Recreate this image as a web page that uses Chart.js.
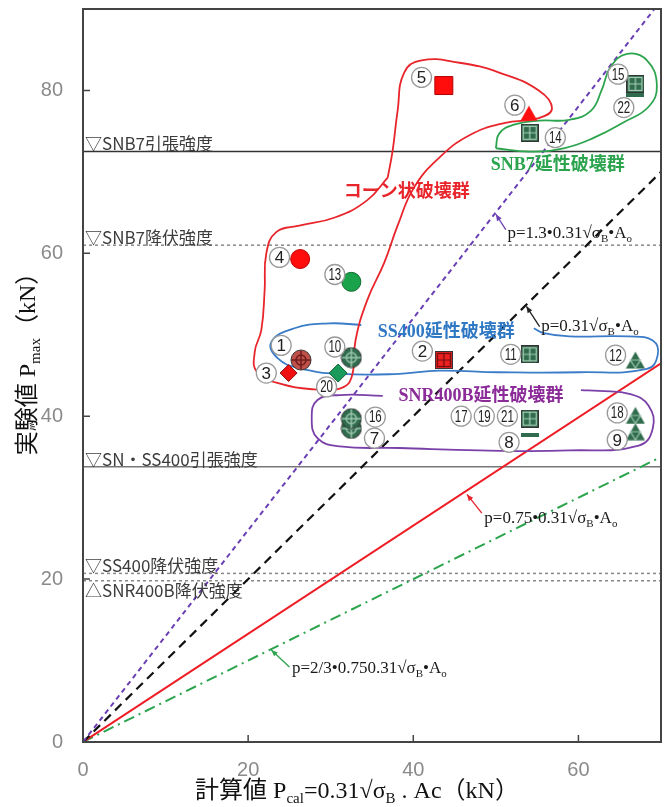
<!DOCTYPE html>
<html>
<head>
<meta charset="utf-8">
<script src="https://cdn.jsdelivr.net/npm/chart.js@4.4.0/dist/chart.umd.min.js"></script>
<style>
  html, body { margin: 0; padding: 0; background: #fff; }
  canvas { display: block; }
</style>
</head>
<body>
<canvas id="chart" width="669" height="807"></canvas>
<script>
// ticks
const xTicks = [0, 20, 40, 60];
const yTicks = [0, 20, 40, 60, 80];

// strength levels (kN)
const levelNames = ['▽SNB7引張強度', '▽SNB7降伏強度', '▽SN・SS400引張強度', '▽SS400降伏強度', '△SNR400B降伏強度'];
const levelValues = [72.5, 61.0, 33.8, 20.7, 19.8];

// design lines p = k * Pcal, end points
const designEndX = [69.2, 70, 70, 70];
const designEndY = [90, 70, 46.5, 35];

// specimens (Pcal, Pmax)
const redSquare = [[43.7, 80.6]];                              // 5
const redTriangle = [[54.0, 77.2]];                            // 6
const redCircle = [[26.3, 59.3]];                              // 4
const redCrossCircle = [[26.4, 46.9]];                         // 1
const redDiamond = [[24.9, 45.3]];                             // 3
const redGrid = [[43.7, 46.9]];                                // 2
const greenCircle = [[32.5, 56.5]];                            // 13
const greenCrossCircle = [[32.5, 47.2], [32.5, 38.5], [32.5, 39.7]]; // 10, 7, 16
const greenDiamond = [[30.9, 45.3]];                           // 20
const greenGrid = [[54.1, 74.8], [66.9, 80.8], [54.1, 47.6], [54.1, 39.7]]; // 14, 15, 11, 17/19/21
const greenDash = [[54.1, 37.7], [66.9, 79.5]];                // 8, 22
const greenTriangle = [[66.9, 46.9], [66.9, 38.1], [66.9, 40.1]]; // 12, 9, 18

// specimen numbers and where their tags sit
const tagNums = [5, 6, 14, 15, 22, 4, 13, 1, 3, 10, 20, 2, 11, 12, 17, 19, 21, 8, 18, 9, 16, 7];
const tagX = [41.0, 52.3, 57.2, 64.8, 65.5, 23.8, 30.5, 24.0, 22.2, 30.5, 29.5, 41.1, 51.8, 64.5, 45.8, 48.6, 51.4, 51.6, 64.7, 64.7, 35.4, 35.3];
const tagY = [81.6, 78.2, 74.2, 82.0, 77.9, 59.5, 57.4, 48.7, 45.3, 48.5, 43.6, 48.0, 47.6, 47.5, 40.0, 40.0, 40.0, 36.8, 40.4, 37.1, 39.9, 37.3];

// failure group outlines
const coneGroup = [[36.9, 69.3], [34.4, 66.5], [30.5, 64.4], [26.2, 63.4], [23.4, 62.6], [22.2, 60.0], [22.0, 55.5],
  [21.6, 50.6], [20.8, 47.9], [21.1, 45.4], [24.2, 43.9], [28.0, 43.3], [31.1, 43.4], [32.5, 44.7], [33.0, 49.3],
  [34.4, 54.2], [36.5, 58.9], [38.1, 63.4], [40.1, 68.1], [43.1, 71.7], [46.8, 74.5], [51.0, 76.0], [55.2, 76.6],
  [56.8, 77.8], [55.2, 80.0], [50.4, 82.2], [45.6, 83.4], [41.0, 83.7], [38.9, 82.2], [38.1, 77.5], [37.5, 72.6], [36.9, 69.3]];
const ss400Group = [[33.7, 51.2], [29.8, 51.4], [25.6, 50.8], [22.8, 49.1], [23.6, 47.1], [26.2, 45.9], [31.1, 45.2],
  [38.3, 45.2], [43.1, 45.6], [50.4, 45.4], [60.1, 45.4], [68.3, 45.8], [69.6, 47.5], [69.0, 49.3], [66.1, 49.8],
  [58.9, 49.8], [55.8, 50.2], [54.6, 50.8]];
const snr400bGroup = [[36.3, 42.5], [31.1, 42.6], [28.4, 42.0], [27.7, 39.8], [28.4, 37.3], [31.1, 36.3], [38.3, 36.1],
  [48.0, 35.8], [58.9, 35.8], [67.3, 36.4], [69.0, 38.5], [68.5, 41.3], [66.3, 42.7], [62.5, 43.1], [60.3, 43.2]];
const snb7Group = [[50.0, 72.9], [50.4, 74.7], [52.2, 75.8], [55.2, 76.3], [58.9, 76.4], [61.5, 77.5], [62.8, 80.0],
  [63.9, 82.9], [65.9, 84.5], [68.3, 83.7], [69.5, 80.6], [68.5, 78.0], [65.5, 76.1], [61.9, 74.2], [58.2, 72.9],
  [54.0, 72.5], [50.0, 72.9]];

// group names
const groupNames = ['コーン状破壊群', 'SNB7延性破壊群', 'SS400延性破壊群', 'SNR400B延性破壊群'];
const groupX = [39.2, 57.5, 44.0, 48.2];
const groupY = [67.6, 71.0, 50.5, 42.6];
const groupColors = ['#e8252b', '#2ca44e', '#2f78c4', '#8b2c99'];

// formulas with leader arrows
const formulaTexts = ['p=1.3•0.31√σ_{B}•A_{o}', 'p=0.31√σ_{B}•A_{o}', 'p=0.75•0.31√σ_{B}•A_{o}', 'p=2/3•0.750.31√σ_{B}•A_{o}'];
const formulaX = [51.4, 55.5, 48.6, 25.3];
const formulaY = [62.6, 51.2, 27.6, 9.2];
const arrowHead = [[50.0, 64.8], [53.7, 53.5], [46.5, 30.4], [22.8, 11.3]];
const arrowTail = [[51.2, 62.9], [55.3, 51.0], [48.3, 28.1], [25.0, 9.2]];
const arrowColors = ['#6a3fb5', '#222', '#e8202a', '#2ca44e'];

const toPts = arr => arr.map(p => ({ x: p[0], y: p[1] }));

// marker images
function gridImg(fill, line) {
  const c = document.createElement('canvas');
  c.width = 18; c.height = 18;
  const g = c.getContext('2d');
  g.fillStyle = fill; g.fillRect(0, 0, 18, 18);
  g.strokeStyle = line; g.lineWidth = 1.2;
  g.strokeRect(2.5, 2.5, 13, 13);
  g.beginPath(); g.moveTo(9, 2.5); g.lineTo(9, 15.5); g.moveTo(2.5, 9); g.lineTo(15.5, 9); g.stroke();
  g.strokeStyle = '#333'; g.lineWidth = 1; g.strokeRect(0.5, 0.5, 17, 17);
  return c;
}
function crossCircleImg(fill, line) {
  const c = document.createElement('canvas');
  c.width = 22; c.height = 22;
  const g = c.getContext('2d');
  g.beginPath(); g.arc(11, 11, 10, 0, Math.PI * 2);
  g.fillStyle = fill; g.fill();
  g.strokeStyle = '#333'; g.lineWidth = 1; g.stroke();
  g.strokeStyle = line; g.lineWidth = 1.5;
  g.beginPath(); g.moveTo(1.5, 11); g.lineTo(20.5, 11); g.moveTo(11, 1.5); g.lineTo(11, 20.5); g.stroke();
  g.beginPath(); g.arc(11, 11, 5, 0, Math.PI * 2); g.stroke();
  return c;
}
function triangleImg(fill, line, w, h) {
  const c = document.createElement('canvas');
  c.width = w; c.height = h;
  const g = c.getContext('2d');
  g.beginPath(); g.moveTo(w / 2, 0.5); g.lineTo(w - 0.5, h - 0.5); g.lineTo(0.5, h - 0.5); g.closePath();
  g.fillStyle = fill; g.fill();
  if (line) {
    g.strokeStyle = line; g.lineWidth = 1.2;
    g.beginPath(); g.moveTo(w / 4, h / 2); g.lineTo(w * 3 / 4, h / 2); g.lineTo(w / 2, h - 1); g.closePath(); g.stroke();
  }
  return c;
}
function dashImg(fill) {
  const c = document.createElement('canvas');
  c.width = 18; c.height = 4;
  const g = c.getContext('2d');
  g.fillStyle = fill; g.fillRect(0, 0, 18, 4);
  return c;
}

const green = '#2f6b4c';

const datasets = [];
// markers
function markers(data, style, extra) {
  datasets.push(Object.assign({ data: toPts(data), pointStyle: style, showLine: false, order: 0, pointRadius: 9 }, extra || {}));
}
markers(redSquare, 'rect', { pointRadius: 12.7, backgroundColor: '#ff0d0d', borderColor: '#b00000', borderWidth: 1 });
markers(redTriangle, triangleImg('#ff1010', null, 18, 16));
markers(redCircle, 'circle', { pointRadius: 9.5, backgroundColor: '#ff0d0d', borderColor: '#c00000', borderWidth: 1 });
markers(redCrossCircle, crossCircleImg('#c0504a', '#6e1c1c'));
markers(redDiamond, 'rectRot', { pointRadius: 8.5, backgroundColor: '#f01010', borderColor: '#8a1010', borderWidth: 1 });
markers(redGrid, gridImg('#ee2020', '#6e1010'));
markers(greenCircle, 'circle', { pointRadius: 9.5, backgroundColor: '#1aa34a', borderColor: '#0f6a30', borderWidth: 1 });
markers(greenCrossCircle, crossCircleImg(green, '#9cc7ae'));
markers(greenDiamond, 'rectRot', { pointRadius: 9, backgroundColor: '#1a9a5a', borderColor: '#0d5f35', borderWidth: 1 });
markers(greenGrid, gridImg(green, '#a8d0b8'));
markers(greenDash, dashImg(green));
markers(greenTriangle, triangleImg(green, '#9cc7ae', 20, 18));

// group outlines
[[coneGroup, '#e8252b'], [ss400Group, '#3a7cc8'], [snr400bGroup, '#7a40a8'], [snb7Group, '#2ca44e']].forEach(function (g) {
  datasets.push({ data: toPts(g[0]), showLine: true, borderColor: g[1], borderWidth: 1.8, pointRadius: 0, tension: 0.45, order: 1 });
});

// design lines
const designStyles = [
  { color: '#6a3fb5', dash: [5, 4], width: 2 },
  { color: '#111', dash: [9, 6], width: 2.2 },
  { color: '#ee1c24', dash: [], width: 2 },
  { color: '#2ca44e', dash: [11, 5, 2, 5], width: 2 }
];
designEndX.forEach(function (ex, i) {
  datasets.push({ data: [{ x: 0, y: 0 }, { x: ex, y: designEndY[i] }], showLine: true, borderColor: designStyles[i].color,
    borderDash: designStyles[i].dash, borderWidth: designStyles[i].width, pointRadius: 0, order: 2 });
});

// strength levels
const levelStyles = [
  { color: '#333', dash: [] }, { color: '#888', dash: [3, 3] }, { color: '#777', dash: [] },
  { color: '#888', dash: [3, 3] }, { color: '#888', dash: [3, 3] }
];
levelValues.forEach(function (v, i) {
  datasets.push({ data: [{ x: 0, y: v }, { x: 70, y: v }], showLine: true, borderColor: levelStyles[i].color,
    borderDash: levelStyles[i].dash, borderWidth: 1.5, pointRadius: 0, order: 3 });
});

function richParts(str) {
  const parts = [];
  const re = /_\{([^}]*)\}/g;
  let last = 0, m;
  while ((m = re.exec(str))) {
    if (m.index > last) parts.push({ t: str.slice(last, m.index), sub: false });
    parts.push({ t: m[1], sub: true });
    last = re.lastIndex;
  }
  if (last < str.length) parts.push({ t: str.slice(last), sub: false });
  return parts;
}
function drawRich(ctx, str, x, y, size, color, align, bold) {
  const fam = '"Liberation Serif", "Noto Sans CJK JP", serif';
  const parts = richParts(str);
  const fontFor = p => (bold ? 'bold ' : '') + (p.sub ? Math.round(size * 0.62) : size) + 'px ' + fam;
  let w = 0;
  parts.forEach(p => { ctx.font = fontFor(p); p.w = ctx.measureText(p.t).width; w += p.w; });
  let cx = align === 'center' ? x - w / 2 : x;
  ctx.fillStyle = color;
  ctx.textAlign = 'left';
  ctx.textBaseline = 'alphabetic';
  parts.forEach(p => { ctx.font = fontFor(p); ctx.fillText(p.t, cx, y + (p.sub ? size * 0.22 : 0)); cx += p.w; });
}

const overlay = {
  id: 'overlay',
  afterDatasetsDraw(chart) {
    const { ctx, chartArea: a, scales: { x, y } } = chart;
    ctx.save();

    // frame and inward ticks
    ctx.strokeStyle = '#444';
    ctx.lineWidth = 2;
    ctx.strokeRect(a.left, a.top, a.right - a.left, a.bottom - a.top);
    ctx.lineWidth = 1.5;
    ctx.beginPath();
    xTicks.slice(1).forEach(v => { const px = x.getPixelForValue(v); ctx.moveTo(px, a.bottom); ctx.lineTo(px, a.bottom - 7); });
    yTicks.slice(1).forEach(v => { const py = y.getPixelForValue(v); ctx.moveTo(a.left, py); ctx.lineTo(a.left + 7, py); });
    ctx.stroke();

    // level names
    ctx.font = '17px "Noto Sans CJK JP", sans-serif';
    ctx.fillStyle = '#3c3c3c';
    ctx.textAlign = 'left';
    levelNames.forEach((t, i) => {
      const py = y.getPixelForValue(levelValues[i]);
      if (t.charAt(0) === '△') {
        ctx.textBaseline = 'top';
        ctx.fillText(t, a.left + 2, py + 1);
      } else {
        ctx.textBaseline = 'bottom';
        ctx.fillText(t, a.left + 2, py + 1);
      }
    });

    // group names
    groupNames.forEach((t, i) => {
      drawRich(ctx, t, x.getPixelForValue(groupX[i]), y.getPixelForValue(groupY[i]) + 6, 18, groupColors[i], 'center', true);
    });

    // formulas and leader arrows
    formulaTexts.forEach((t, i) => {
      const hx = x.getPixelForValue(arrowHead[i][0]), hy = y.getPixelForValue(arrowHead[i][1]);
      const tx = x.getPixelForValue(arrowTail[i][0]), ty = y.getPixelForValue(arrowTail[i][1]);
      ctx.strokeStyle = arrowColors[i];
      ctx.fillStyle = arrowColors[i];
      ctx.lineWidth = 1.3;
      ctx.beginPath(); ctx.moveTo(tx, ty); ctx.lineTo(hx, hy); ctx.stroke();
      const ang = Math.atan2(hy - ty, hx - tx);
      ctx.beginPath();
      ctx.moveTo(hx, hy);
      ctx.lineTo(hx - 7 * Math.cos(ang - 0.4), hy - 7 * Math.sin(ang - 0.4));
      ctx.lineTo(hx - 7 * Math.cos(ang + 0.4), hy - 7 * Math.sin(ang + 0.4));
      ctx.closePath(); ctx.fill();
      drawRich(ctx, t, x.getPixelForValue(formulaX[i]), y.getPixelForValue(formulaY[i]) + 6, 17, '#1a1a1a', 'left', false);
    });

    // specimen tags
    tagNums.forEach((n, i) => {
      const px = x.getPixelForValue(tagX[i]), py = y.getPixelForValue(tagY[i]);
      ctx.beginPath(); ctx.arc(px, py, 10, 0, Math.PI * 2);
      ctx.fillStyle = '#fff'; ctx.fill();
      ctx.strokeStyle = '#9a9a9a'; ctx.lineWidth = 1.3; ctx.stroke();
      ctx.fillStyle = '#222';
      ctx.textAlign = 'center';
      ctx.textBaseline = 'middle';
      const s = String(n);
      ctx.save();
      ctx.translate(px, py + 1);
      if (s.length > 1) {
        ctx.scale(0.72, 1);
        ctx.font = '16px "Liberation Sans", sans-serif';
      } else {
        ctx.font = '17px "Liberation Sans", sans-serif';
      }
      ctx.fillText(s, 0, 0);
      ctx.restore();
    });

    // axis titles
    drawRich(ctx, '計算値 P_{cal}=0.31√σ_{B} . Ac（kN）', 357, 798, 24, '#111', 'center', false);
    ctx.save();
    ctx.translate(35, 358);
    ctx.rotate(-Math.PI / 2);
    drawRich(ctx, '実験値 P_{max}（kN）', 0, 0, 24, '#111', 'center', false);
    ctx.restore();

    ctx.restore();
  }
};

const tickFont = { family: '"Liberation Sans", Arial, sans-serif', size: 20 };

function fixBox(s, w, h) {
  if (w) s.width = w;
  if (h) s.height = h;
  s.paddingTop = 0; s.paddingBottom = 0; s.paddingLeft = 0; s.paddingRight = 0;
}

new Chart(document.getElementById('chart').getContext('2d'), {
  type: 'scatter',
  data: { datasets: datasets },
  options: {
    responsive: false,
    animation: false,
    layout: { autoPadding: false, padding: { left: 0, right: 8, top: 9, bottom: 0 } },
    scales: {
      x: {
        type: 'linear', min: 0, max: 70,
        grid: { display: false, drawTicks: false },
        border: { display: false },
        ticks: { font: tickFont, color: '#8a8a8a', padding: 16 },
        afterBuildTicks: s => { s.ticks = xTicks.map(v => ({ value: v })); },
        afterFit: s => fixBox(s, 0, 65)
      },
      y: {
        type: 'linear', min: 0, max: 90,
        grid: { display: false, drawTicks: false },
        border: { display: false },
        ticks: { font: tickFont, color: '#8a8a8a', padding: 20 },
        afterBuildTicks: s => { s.ticks = yTicks.map(v => ({ value: v })); },
        afterFit: s => fixBox(s, 83, 0)
      }
    },
    plugins: { legend: { display: false }, tooltip: { enabled: false } }
  },
  plugins: [overlay]
});
</script>
</body>
</html>
